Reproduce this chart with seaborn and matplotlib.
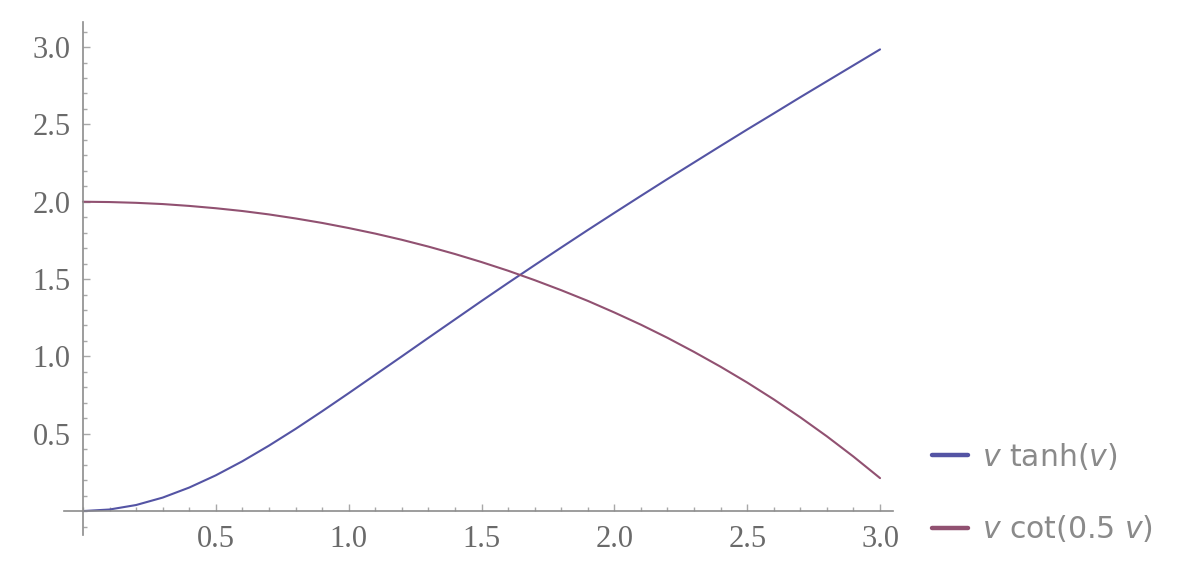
import numpy as np
import pandas as pd
import seaborn as sns
import matplotlib.pyplot as plt
from matplotlib.ticker import FixedLocator, MultipleLocator

v = [0.0, 0.1, 0.2, 0.3, 0.4, 0.5, 0.6, 0.7, 0.8, 0.9, 1.0,
     1.1, 1.2, 1.3, 1.4, 1.5, 1.6, 1.7, 1.8, 1.9, 2.0,
     2.1, 2.2, 2.3, 2.4, 2.5, 2.6, 2.7, 2.8, 2.9, 3.0]

v_tanh = [0.000, 0.010, 0.039, 0.087, 0.152, 0.231, 0.322, 0.423, 0.531, 0.645, 0.762,
          0.881, 1.000, 1.120, 1.239, 1.358, 1.475, 1.590, 1.704, 1.817, 1.928,
          2.038, 2.147, 2.254, 2.361, 2.467, 2.571, 2.676, 2.779, 2.882, 2.985]

v_cot = [2.000, 1.998, 1.993, 1.985, 1.973, 1.958, 1.940, 1.918, 1.892, 1.863, 1.830,
         1.794, 1.754, 1.710, 1.662, 1.610, 1.554, 1.493, 1.428, 1.359, 1.284,
         1.205, 1.120, 1.029, 0.933, 0.831, 0.722, 0.606, 0.483, 0.352, 0.213]

series_labels = ["$v$ tanh($v$)", "$v$ cot(0.5 $v$)"]
series_colors = ["#5454a4", "#915171"]
tick_values = [0.5, 1.0, 1.5, 2.0, 2.5, 3.0]
tick_labels = ["0.5", "1.0", "1.5", "2.0", "2.5", "3.0"]

df = pd.DataFrame({
    "v": v + v,
    "y": v_tanh + v_cot,
    "curve": [series_labels[0]] * len(v) + [series_labels[1]] * len(v),
})

sns.set_style("white")
plt.rcParams["font.family"] = ["DejaVu Sans"]

fig = plt.figure(figsize=(11.96, 5.86), dpi=100)
ax = fig.add_axes([0.0535, 0.087, 0.6932, 0.8754])

sns.lineplot(data=df, x="v", y="y", hue="curve", palette=series_colors,
             linewidth=1.5, ax=ax, legend=True)

ax.set_xlim(-0.0715, 3.049)
ax.set_ylim(-0.155, 3.162)
ax.set_xlabel("")
ax.set_ylabel("")

# axes through the origin, Mathematica style
ax.spines["left"].set_position(("data", 0))
ax.spines["bottom"].set_position(("data", 0))
ax.spines["top"].set_visible(False)
ax.spines["right"].set_visible(False)
for s in ("left", "bottom"):
    ax.spines[s].set_color("#8c8c8c")
    ax.spines[s].set_linewidth(1.2)

ax.xaxis.set_major_locator(FixedLocator(tick_values))
ax.yaxis.set_major_locator(FixedLocator(tick_values))
ax.set_xticklabels(tick_labels)
ax.set_yticklabels(tick_labels)
ax.xaxis.set_minor_locator(MultipleLocator(0.1))
ax.yaxis.set_minor_locator(MultipleLocator(0.1))

ax.tick_params(which="both", direction="in", color="#a8a8a8", width=1,
               bottom=True, left=True, top=False, right=False)
ax.tick_params(which="major", length=5)
ax.tick_params(which="minor", length=3)
ax.tick_params(axis="x", which="major", pad=10)
ax.tick_params(axis="y", which="major", pad=9)
for lab in ax.get_xticklabels() + ax.get_yticklabels():
    lab.set_family("Liberation Serif")
    lab.set_fontsize(22)
    lab.set_color("#6a6a6a")

leg = ax.legend(loc="upper left", bbox_to_anchor=(0.779, 0.248),
                bbox_transform=fig.transFigure, frameon=False,
                fontsize=21.5, handlelength=1.2, handletextpad=0.5,
                labelspacing=1.4, borderpad=0, borderaxespad=0)
for line in leg.get_lines():
    line.set_linewidth(3.2)
for t in leg.get_texts():
    t.set_color("#8a8a8a")

fig.savefig("out.png", dpi=100)
